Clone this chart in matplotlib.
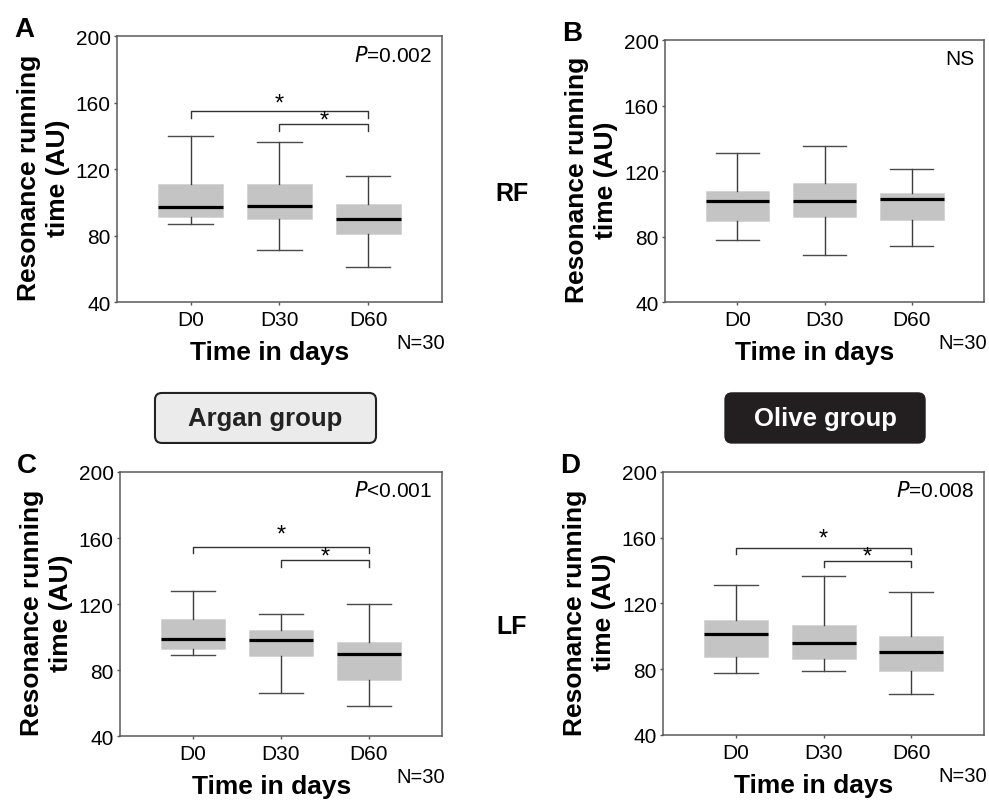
import matplotlib as mpl
mpl.use('Agg')
import matplotlib.pyplot as plt
from matplotlib.patches import FancyBboxPatch

plt.rcParams['font.family'] = ['Liberation Sans', 'DejaVu Sans']

days = ['D0', 'D30', 'D60']
pos = [1, 2, 3]

# box stats per panel: whisker low, q1, median, q3, whisker high
a_lo = [87, 71, 61]
a_q1 = [91, 90, 81]
a_med = [97, 98, 90]
a_q3 = [111, 111, 99]
a_hi = [140, 136, 116]

b_lo = [78, 69, 74]
b_q1 = [89.5, 92, 90]
b_med = [101.7, 101.7, 102.7]
b_q3 = [108, 112.7, 106.8]
b_hi = [131, 135, 121]

c_lo = [89, 66, 58]
c_q1 = [93, 88.5, 74]
c_med = [99, 98, 89.5]
c_q3 = [111, 104, 97]
c_hi = [128, 114, 120]

d_lo = [77.5, 79, 65]
d_q1 = [87.7, 86, 79]
d_med = [101.5, 96, 90.5]
d_q3 = [110, 107, 100]
d_hi = [131, 137, 127]

p_texts = ['$\\it{P}$=0.002', 'NS', '$\\it{P}$<0.001', '$\\it{P}$=0.008']
# bracket heights (D0-D60, D30-D60) and star heights, None when not significant
brackets = [(155, 147), None, (154.7, 146.4), (154, 146)]
stars = [(153, 142.6), None, (155.7, 142), (152.6, 141.6)]

panels = [
    ('A', [0.1183, 0.6231, 0.3286, 0.3308], (a_lo, a_q1, a_med, a_q3, a_hi)),
    ('B', [0.6724, 0.6231, 0.3226, 0.3259], (b_lo, b_q1, b_med, b_q3, b_hi)),
    ('C', [0.1213, 0.0833, 0.3256, 0.3284], (c_lo, c_q1, c_med, c_q3, c_hi)),
    ('D', [0.6704, 0.0846, 0.3246, 0.3271], (d_lo, d_q1, d_med, d_q3, d_hi)),
]

fig = plt.figure(figsize=(9.89, 8.04), dpi=100)

for i, (letter, rect, st) in enumerate(panels):
    ax = fig.add_axes(rect)
    lo, q1, med, q3, hi = st
    stats = [dict(whislo=lo[k], q1=q1[k], med=med[k], q3=q3[k], whishi=hi[k], fliers=[])
             for k in range(3)]
    ax.bxp(stats, positions=pos, widths=0.73, capwidths=0.5, patch_artist=True,
           showfliers=False,
           boxprops=dict(facecolor='#c4c4c4', edgecolor='#d0d0d0', linewidth=0.5),
           medianprops=dict(color='black', linewidth=2.3),
           whiskerprops=dict(color='#3c3c3c', linewidth=1.0),
           capprops=dict(color='#4a4a4a', linewidth=1.0))
    ax.set_xlim(0.17, 3.83)
    ax.set_ylim(40, 200)
    ax.set_yticks([40, 80, 120, 160, 200])
    ax.set_xticks(pos)
    ax.set_xticklabels(days)
    ax.tick_params(labelsize=15, length=2.5, width=1, color='#555555', pad=2)
    ax.tick_params(axis='x', pad=3)
    for s in ax.spines.values():
        s.set_color('#5a5a5a')
        s.set_linewidth(1.1)

    ax.text(0.97, 0.93, p_texts[i], transform=ax.transAxes, ha='right', va='center',
            fontsize=15)

    if brackets[i] is not None:
        h1, h2 = brackets[i]
        s1, s2 = stars[i]
        ax.plot([1, 1, 3, 3], [h1 - 4, h1, h1, h1 - 4], color='#333333', lw=1)
        ax.plot([2, 2, 3, 3], [h2 - 4, h2, h2, h2 - 4], color='#333333', lw=1)
        ax.text(2, s1, '*', ha='center', va='bottom', fontsize=17)
        ax.text(2.5, s2, '*', ha='center', va='bottom', fontsize=17)

    # panel letter, y label, x label, N
    x0, y0, w, h = rect
    fig.text(x0 - 0.094, y0 + h + 0.0085, letter, fontsize=20, fontweight='bold',
             ha='center', va='center')
    fig.text(x0 - 0.074, y0 + h * 0.47, 'Resonance running\ntime (AU)', rotation=90,
             fontsize=19, fontweight='bold', ha='center', va='center', linespacing=1.25)
    fig.text(x0 + w * 0.47, y0 - 0.0625, 'Time in days', fontsize=19, fontweight='bold',
             ha='center', va='center')
    fig.text(x0 + w + 0.003, y0 - 0.05, 'N=30', fontsize=14.5, ha='right', va='center')

fig.text(0.5177, 0.7587, 'RF', fontsize=18, fontweight='bold', ha='center', va='center')
fig.text(0.5177, 0.2201, 'LF', fontsize=18, fontweight='bold', ha='center', va='center')

# group label boxes
asp = 989 / 804
fig.patches.append(FancyBboxPatch((0.1567, 0.4478), 0.2235, 0.0622,
                                  boxstyle='round,pad=0,rounding_size=0.007',
                                  mutation_aspect=asp, transform=fig.transFigure,
                                  facecolor='#ebebeb', edgecolor='#222222', lw=1.5))
fig.patches.append(FancyBboxPatch((0.7331, 0.4478), 0.2022, 0.0622,
                                  boxstyle='round,pad=0,rounding_size=0.007',
                                  mutation_aspect=asp, transform=fig.transFigure,
                                  facecolor='#231f20', edgecolor='#231f20', lw=1.0))
fig.text(0.2685, 0.4789, 'Argan group', fontsize=18.5, fontweight='bold', color='#222222',
         ha='center', va='center')
fig.text(0.8342, 0.4789, 'Olive group', fontsize=18.5, fontweight='bold', color='white',
         ha='center', va='center')

fig.savefig('out.png', dpi=100)
plt.close()
